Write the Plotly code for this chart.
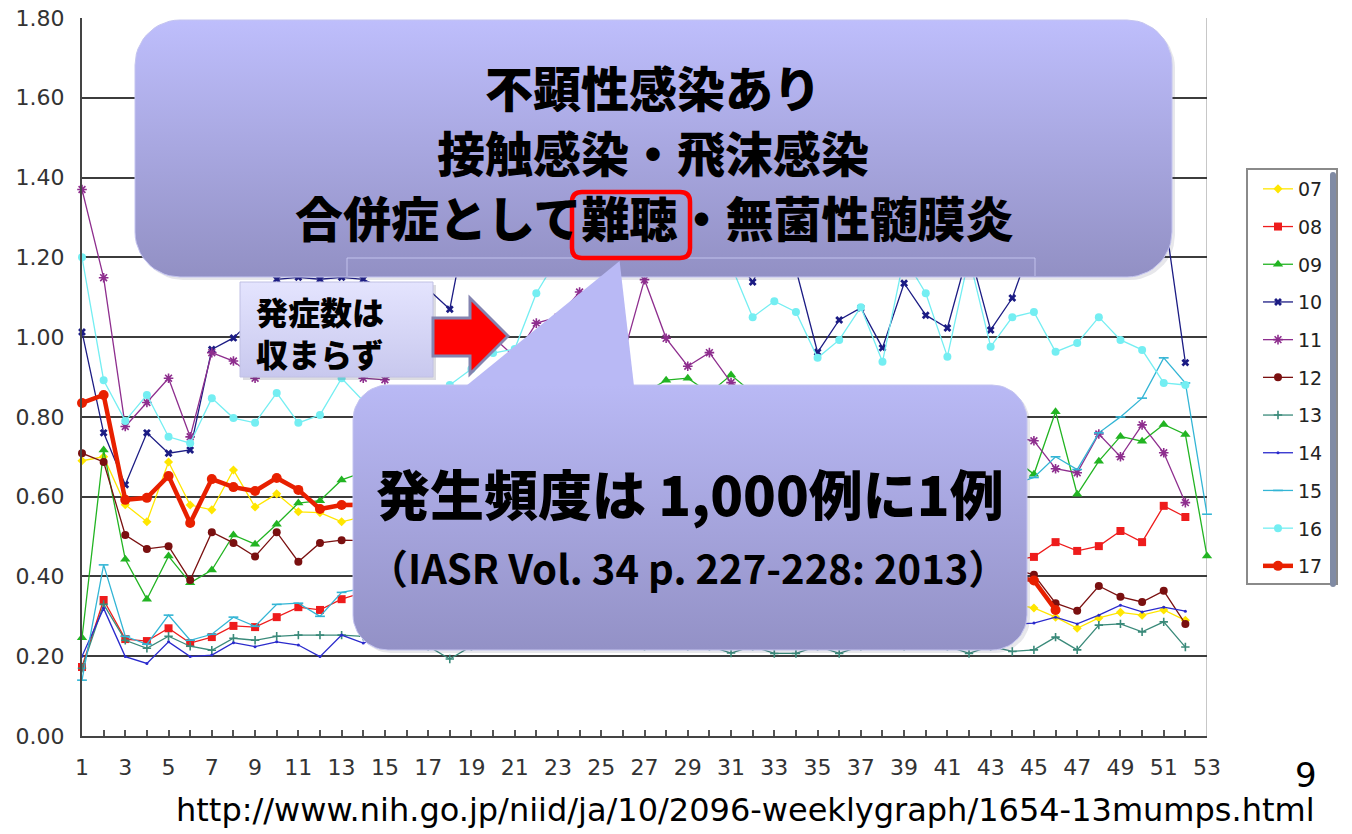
import numpy as np
import plotly.graph_objects as go

W, H = 1352, 834
PX0, PX1 = 82, 1207
PY0, PY1 = 18, 736

weeks = list(range(1, 54))
x_tick_vals = list(range(1, 54, 2))
y_tick_vals = [0.0, 0.2, 0.4, 0.6, 0.8, 1.0, 1.2, 1.4, 1.6, 1.8]

s07 = [0.69, 0.70, 0.58, 0.537, 0.687, 0.579, 0.567, 0.667, 0.574, 0.607, 0.562, 0.56, 0.537,
       0.55, 0.52, 0.53, 0.50, 0.46, 0.49, 0.52, 0.51, 0.50, 0.48, 0.50, 0.47, 0.46, 0.45, 0.44, 0.42,
       0.41, 0.38, 0.36, 0.31, 0.28, 0.29, 0.31, 0.32, 0.33, 0.31, 0.30, 0.33, 0.32, 0.34, 0.33,
       0.321, 0.298, 0.27, 0.296, 0.31, 0.303, 0.316, 0.29]
s08 = [0.173, 0.341, 0.243, 0.238, 0.27, 0.233, 0.248, 0.276, 0.273, 0.298, 0.323, 0.316, 0.343,
       0.36, 0.35, 0.38, 0.37, 0.40, 0.39, 0.41, 0.43, 0.42, 0.44, 0.43, 0.45, 0.44, 0.42, 0.41, 0.40,
       0.38, 0.36, 0.35, 0.37, 0.36, 0.38, 0.39, 0.40, 0.41, 0.40, 0.42, 0.41, 0.43, 0.42, 0.44,
       0.449, 0.486, 0.464, 0.476, 0.514, 0.486, 0.577, 0.549]
s09 = [0.246, 0.717, 0.443, 0.343, 0.451, 0.384, 0.416, 0.504, 0.481, 0.531, 0.584, 0.59, 0.642,
       0.66, 0.68, 0.70, 0.72, 0.75, 0.74, 0.78, 0.80, 0.79, 0.82, 0.84, 0.83, 0.85, 0.86,
       0.892, 0.897, 0.86, 0.905,
       0.86, 0.84, 0.82, 0.83, 0.80, 0.78, 0.79, 0.76, 0.75, 0.77, 0.74, 0.72, 0.70,
       0.656, 0.813, 0.606, 0.689, 0.751, 0.739, 0.781, 0.756, 0.451]
s10 = [1.013, 0.76, 0.63, 0.76, 0.709, 0.717, 0.969, 0.998, 1.05, 1.145, 1.15, 1.145, 1.15,
       1.145, 1.12, 1.10, 1.12, 1.07, 1.35, 1.40, 1.42, 1.45, 1.43, 1.40, 1.38, 1.36, 1.33, 1.30,
       1.28, 1.25, 1.22,
       1.138, 1.25, 1.17, 0.962, 1.043, 1.073, 0.973, 1.135, 1.055, 1.023, 1.22, 1.018, 1.098,
       1.25, 1.30, 1.32, 1.35, 1.30, 1.28, 1.32, 0.936]
s11 = [1.37, 1.149, 0.776, 0.836, 0.897, 0.75, 0.961, 0.94, 0.897, 0.95, 0.98, 0.96, 0.93,
       0.897, 0.893, 0.93, 0.97, 1.00, 1.02, 1.00, 0.95, 1.035, 1.05, 1.113, 1.00, 0.95, 1.144,
       0.997, 0.927, 0.961, 0.886,
       0.85, 0.82, 0.80, 0.78, 0.80, 0.76, 0.78, 0.75, 0.77, 0.74, 0.76, 0.72, 0.75,
       0.74, 0.67, 0.66, 0.757, 0.70, 0.78, 0.71, 0.585]
s12 = [0.709, 0.687, 0.504, 0.469, 0.476, 0.391, 0.511, 0.484, 0.45, 0.511, 0.437, 0.484, 0.491,
       0.49, 0.47, 0.50, 0.48, 0.46, 0.47, 0.45, 0.46, 0.44, 0.45, 0.43, 0.44, 0.42, 0.41, 0.42,
       0.40, 0.39, 0.41, 0.40, 0.38, 0.39, 0.40, 0.38, 0.39, 0.37, 0.38, 0.40, 0.39, 0.41, 0.40, 0.42,
       0.404, 0.333, 0.314, 0.376, 0.349, 0.336, 0.364, 0.281]
s13 = [0.17, 0.33, 0.24, 0.22, 0.25, 0.225, 0.215, 0.245, 0.24, 0.25, 0.253, 0.253, 0.253,
       0.25, 0.24, 0.23, 0.225, 0.193, 0.225, 0.23, 0.235, 0.24, 0.23, 0.235, 0.24, 0.23, 0.225,
       0.23, 0.225, 0.225, 0.208, 0.225, 0.207, 0.207, 0.225, 0.207, 0.225, 0.23, 0.225, 0.23,
       0.225, 0.207, 0.225, 0.212,
       0.216, 0.248, 0.216, 0.278, 0.281, 0.261, 0.286, 0.223]
s14 = [0.20, 0.32, 0.199, 0.182, 0.236, 0.199, 0.203, 0.234, 0.224, 0.236, 0.228, 0.199, 0.253,
       0.233, 0.25, 0.26, 0.27, 0.26, 0.28, 0.27, 0.29, 0.28, 0.27, 0.28, 0.26, 0.27, 0.28, 0.27,
       0.26, 0.25, 0.26, 0.27, 0.26, 0.25, 0.26, 0.27, 0.28, 0.27, 0.28, 0.29, 0.28, 0.27, 0.28,
       0.28,
       0.283, 0.298, 0.281, 0.303, 0.328, 0.311, 0.323, 0.313]
s15 = [0.14, 0.429, 0.25, 0.23, 0.303, 0.24, 0.255, 0.298, 0.275, 0.33, 0.333, 0.30, 0.36,
       0.37, 0.38, 0.40, 0.39, 0.42, 0.41, 0.43, 0.45, 0.44, 0.46, 0.45, 0.47, 0.49, 0.48, 0.50,
       0.52, 0.51, 0.53, 0.52, 0.54, 0.55, 0.54, 0.56, 0.58, 0.57, 0.59, 0.60, 0.61, 0.60, 0.62, 0.63,
       0.648, 0.70, 0.668, 0.76, 0.80, 0.847, 0.948, 0.885, 0.556]
s16 = [1.20, 0.892, 0.79, 0.855, 0.75, 0.734, 0.847, 0.797, 0.785, 0.86, 0.785, 0.805, 0.897,
       0.84, 0.86, 0.83, 0.85, 0.88, 0.92, 0.96, 0.97,
       1.11, 1.20, 1.25, 1.28, 1.24, 1.22, 1.25, 1.22, 1.20, 1.18,
       1.05, 1.09, 1.063, 0.948, 0.993, 1.075, 0.938, 1.20, 1.11, 0.951, 1.20, 0.976, 1.05,
       1.063, 0.963, 0.985, 1.05, 0.993, 0.968, 0.885, 0.88]
s17 = [0.835, 0.855, 0.592, 0.597, 0.652, 0.534, 0.644, 0.624, 0.614, 0.647, 0.617, 0.569, 0.579,
       0.58, 0.56, 0.57, 0.55, 0.54, 0.55, 0.53, 0.52, 0.53, 0.51, 0.50, 0.51, 0.49, 0.48, 0.47,
       0.48, 0.46, 0.45, 0.44, 0.45, 0.43, 0.44, 0.42, 0.43, 0.41, 0.42, 0.40, 0.41, 0.40, 0.39, 0.40,
       0.39, 0.316]

series = [("07", s07), ("08", s08), ("09", s09), ("10", s10), ("11", s11), ("12", s12),
          ("13", s13), ("14", s14), ("15", s15), ("16", s16), ("17", s17)]

styles = {
    "07": dict(color="#ffe600", width=1.3, symbol="diamond", size=7),
    "08": dict(color="#ee1c1c", width=1.3, symbol="square", size=8),
    "09": dict(color="#22b422", width=1.3, symbol="triangle-up", size=9),
    "10": dict(color="#1c1c84", width=1.3, symbol="x", size=7),
    "11": dict(color="#8e2e8e", width=1.3, symbol="asterisk-open", size=8),
    "12": dict(color="#7a1010", width=1.3, symbol="circle", size=8),
    "13": dict(color="#3a8a7a", width=1.3, symbol="cross-thin-open", size=6),
    "14": dict(color="#2a2acc", width=1.3, symbol="circle", size=3),
    "15": dict(color="#33b5d5", width=1.3, symbol="line-ew-open", size=7),
    "16": dict(color="#74eef2", width=1.3, symbol="circle", size=8),
    "17": dict(color="#e82000", width=4.5, symbol="circle", size=10),
}

fig = go.Figure()
for name, vals in series:
    st = styles[name]
    open_sym = st["symbol"].endswith("open")
    fig.add_trace(go.Scatter(
        x=weeks[:len(vals)], y=vals, name=name, legendgroup=name,
        mode="lines+markers", cliponaxis=False,
        line=dict(color=st["color"], width=st["width"]),
        marker=dict(symbol=st["symbol"], size=st["size"], color=st["color"],
                    line=dict(color=st["color"], width=1.6 if open_sym else 0)),
        hoverinfo="skip",
    ))


def rrect(x0, y0, x1, y1, r, n=14):
    xs, ys = [], []
    for cx, cy, a0, a1 in [(x1 - r, y0 + r, -90, 0), (x1 - r, y1 - r, 0, 90),
                           (x0 + r, y1 - r, 90, 180), (x0 + r, y0 + r, 180, 270)]:
        t = np.radians(np.linspace(a0, a1, n))
        xs += list(cx + r * np.cos(t))
        ys += list(cy + r * np.sin(t))
    xs.append(xs[0]); ys.append(ys[0])
    return xs, ys


def add_poly(xs, ys, fill=None, grad=None, line_color="rgba(0,0,0,0)", lw=0):
    kw = {}
    if grad is not None:
        kw["fillgradient"] = dict(type="vertical", colorscale=[[0, grad[0]], [1, grad[1]]],
                                  start=min(ys), stop=max(ys))
    else:
        kw["fillcolor"] = fill
    fig.add_trace(go.Scatter(x=xs, y=ys, xaxis="x2", yaxis="y2", mode="lines", fill="toself",
                             line=dict(color=line_color, width=lw), showlegend=False,
                             hoverinfo="skip", **kw))

# top callout
bx, by = rrect(138, 23, 1175, 280, 45)
add_poly(bx, by, fill="rgba(60,60,90,0.12)")
bx, by = rrect(135, 20, 1172, 277, 45)
add_poly(bx, by, grad=("#bebefc", "#9290c4"), line_color="#c4c4f0", lw=1)

# small box
add_poly([243, 436, 436, 243, 243], [285, 285, 380, 380, 285], fill="rgba(60,60,90,0.18)")
add_poly([240, 433, 433, 240, 240], [282, 282, 377, 377, 282], grad=("#e4e4fe", "#c8c8ee"),
         line_color="#c0c0e4", lw=1)

# lower callout
bx, by = rrect(356, 388, 1030, 653, 35)
add_poly(bx, by, fill="rgba(60,60,90,0.12)")
bx, by = rrect(353, 385, 1027, 650, 35)
add_poly(bx, by, grad=("#b9b9f5", "#9391c6"), line_color="#c4c4f0", lw=1)
add_poly([466, 619.6, 634, 466], [386, 261, 386, 386], fill="#b9b9f5")

fig.update_layout(
    width=W, height=H,
    margin=dict(l=0, r=0, t=0, b=0, pad=0, autoexpand=False),
    paper_bgcolor="white", plot_bgcolor="rgba(0,0,0,0)",
    hovermode=False,
    xaxis=dict(domain=[PX0 / W, PX1 / W], range=[1, 53], tickmode="array",
               tickvals=x_tick_vals, ticks="inside", ticklen=6, tickwidth=1.5, tickcolor="#555",
               minor=dict(tickmode="array", tickvals=weeks, ticks="inside", ticklen=6,
                          tickwidth=1.5, tickcolor="#555"),
               showline=True, linecolor="#444", linewidth=2, showgrid=False, zeroline=False,
               tickfont=dict(family="DejaVu Sans", size=22, color="#333"), ticklabelstandoff=11,
               anchor="y", automargin=False),
    yaxis=dict(domain=[1 - PY1 / H, 1 - PY0 / H], range=[0, 1.8], tickmode="array",
               tickvals=y_tick_vals, tickformat=".2f", ticks="",
               showgrid=True, gridcolor="#3c3c3c", gridwidth=1.6,
               showline=True, linecolor="#444", linewidth=2, zeroline=False,
               tickfont=dict(family="DejaVu Sans", size=22, color="#333"), ticklabelstandoff=11,
               anchor="x", automargin=False),
    xaxis2=dict(domain=[0, 1], range=[0, W], visible=False, anchor="y2", fixedrange=True,
                automargin=False),
    yaxis2=dict(domain=[0, 1], range=[H, 0], visible=False, anchor="x2", fixedrange=True,
                automargin=False),
    legend=dict(xref="container", yref="container", x=1246 / W, y=1 - 168 / H,
                xanchor="left", yanchor="top", bgcolor="white",
                bordercolor="#8a8a8a", borderwidth=2, tracegroupgap=10, indentation=10,
                font=dict(family="DejaVu Sans", size=19, color="#222")),
)

# right frame line
fig.add_shape(type="line", xref="x", yref="y", x0=53, x1=53, y0=0, y1=1.8,
              line=dict(color="#b4b4b4", width=1.5), layer="below")

# faint artifact lines inside the top callout
for (x0, y0, x1, y1) in [(347, 258, 1035, 258), (347, 258, 347, 276), (1035, 258, 1035, 276)]:
    fig.add_shape(type="line", xref="x2", yref="y2", x0=x0, y0=y0, x1=x1, y1=y1,
                  line=dict(color="rgba(205,205,245,0.8)", width=1))

# red arrow
fig.add_shape(type="path", xref="x2", yref="y2",
              path="M 433 318 L 470 318 L 470 298 L 508 336 L 470 374 L 470 356 L 433 356 Z",
              fillcolor="#ff0000", line=dict(color="#8484b0", width=3))


def rpath(x0, y0, x1, y1, r):
    return (f"M {x0 + r} {y0} L {x1 - r} {y0} Q {x1} {y0} {x1} {y0 + r} L {x1} {y1 - r} "
            f"Q {x1} {y1} {x1 - r} {y1} L {x0 + r} {y1} Q {x0} {y1} {x0} {y1 - r} "
            f"L {x0} {y0 + r} Q {x0} {y0} {x0 + r} {y0} Z")


fig.add_shape(type="path", xref="x2", yref="y2", path=rpath(572, 192, 690, 258, 10),
              line=dict(color="#ff0000", width=4.5))

CJK = "Noto Sans CJK JP"


def txt(x, y, s, size, weight=900, family=CJK, anchor="center", color="black", align="center"):
    fig.add_annotation(x=x, y=y, xref="x2", yref="y2", text=s, showarrow=False,
                       xanchor=anchor, yanchor="middle", align=align,
                       font=dict(family=family, size=size, color=color, weight=weight))


txt(653, 86, "不顕性感染あり", 48)
txt(653, 151, "接触感染・飛沫感染", 48)
txt(654, 216, "合併症として難聴・無菌性髄膜炎", 48)
txt(254, 332, "発症数は<br>収まらず", 32, anchor="left", align="left")
txt(690, 492, "発生頻度は 1,000例に1例", 54)
txt(688, 567, "（IASR Vol. 34 p. 227-228: 2013）", 40, weight=700)
txt(745, 810, "http://www.nih.go.jp/niid/ja/10/2096-weeklygraph/1654-13mumps.html", 32,
    weight=400, family="DejaVu Sans")
txt(1306, 775, "9", 34, weight=400, family="DejaVu Sans")

fig.write_html("out.html", config={"displayModeBar": False},
               post_script="document.body.style.margin='0px';document.body.style.overflow='hidden';")
